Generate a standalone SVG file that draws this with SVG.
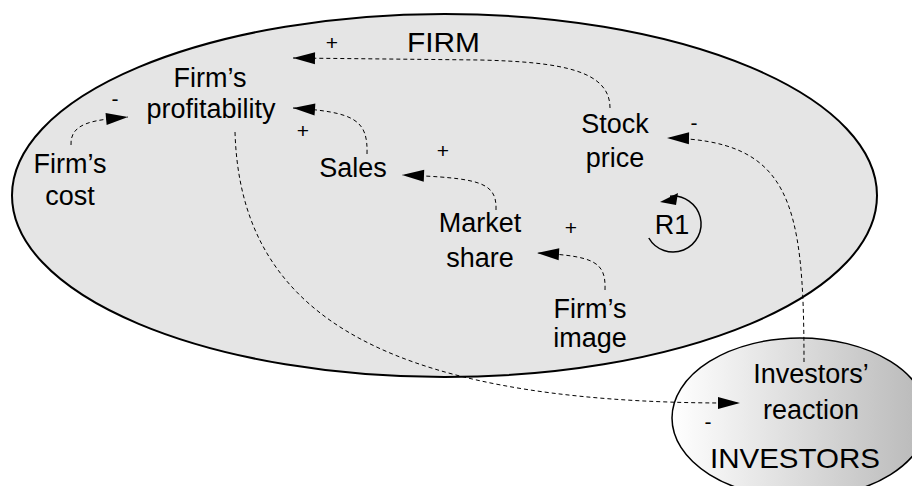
<svg xmlns="http://www.w3.org/2000/svg" width="912" height="486" viewBox="0 0 912 486">
  <defs>
    <linearGradient id="investorsFill" x1="0" y1="0" x2="1" y2="0">
      <stop offset="0" stop-color="#ffffff"/>
      <stop offset="1" stop-color="#b8b8b8"/>
    </linearGradient>
    <marker id="arrow" markerUnits="userSpaceOnUse" markerWidth="22" markerHeight="12" refX="22" refY="6" orient="auto" overflow="visible">
      <path d="M0,0 L22,6 L0,12 z" fill="#000"/>
    </marker>
    <style>
      text { font-family: "Liberation Sans", Arial, sans-serif; fill: #000; text-anchor: middle; }
      .lbl { font-size: 27px; }
      .title { font-size: 28px; }
      .sign { font-size: 21px; }
      .link { fill: none; stroke: #000; stroke-width: 1; stroke-dasharray: 4 3; marker-end: url(#arrow); }
    </style>
  </defs>

  <!-- boundary regions -->
  <g id="firm">
    <ellipse cx="444.5" cy="195.5" rx="432.5" ry="181.5" fill="#e5e5e5" stroke="#000" stroke-width="2"/>
    <text class="title" x="443.5" y="52" textLength="73" lengthAdjust="spacingAndGlyphs">FIRM</text>
  </g>
  <g id="investors">
    <ellipse cx="800" cy="418" rx="128" ry="80" fill="url(#investorsFill)" stroke="#000" stroke-width="1.5"/>
    <text class="title" x="795" y="468" textLength="170" lengthAdjust="spacingAndGlyphs">INVESTORS</text>
  </g>

  <!-- causal links -->
  <g id="connectors">
    <path class="link" d="M610,108 C610,70 560,62 480,60 L293,58"/>
    <path class="link" d="M71,145 C70,122 95,120 128,117"/>
    <path class="link" d="M367,154 C368,120 355,112 293,108"/>
    <path class="link" d="M496,210 C497,182 480,178 402,175"/>
    <path class="link" d="M605,290 C606,262 595,256 537,253"/>
    <path class="link" d="M804,362 C804,200 790,140 667,138"/>
    <path class="link" d="M235,132 C240,300 360,405 740,403"/>
  </g>

  <!-- polarity signs -->
  <g id="signs">
    <text class="sign" x="332" y="50">+</text>
    <text class="sign" x="115" y="106">-</text>
    <text class="sign" x="303" y="138">+</text>
    <text class="sign" x="443" y="158">+</text>
    <text class="sign" x="694" y="130">-</text>
    <text class="sign" x="571" y="235">+</text>
    <text class="sign" x="708" y="429">-</text>
  </g>

  <!-- variables -->
  <g id="profitability">
    <text class="lbl" x="210" y="87">Firm’s</text>
    <text class="lbl" x="211" y="118">profitability</text>
  </g>
  <g id="cost">
    <text class="lbl" x="70" y="173">Firm’s</text>
    <text class="lbl" x="70" y="205">cost</text>
  </g>
  <g id="sales">
    <text class="lbl" x="353" y="177">Sales</text>
  </g>
  <g id="stock-price">
    <text class="lbl" x="615" y="133">Stock</text>
    <text class="lbl" x="615" y="167">price</text>
  </g>
  <g id="market-share">
    <text class="lbl" x="480" y="232">Market</text>
    <text class="lbl" x="480" y="267">share</text>
  </g>
  <g id="image">
    <text class="lbl" x="590" y="318">Firm’s</text>
    <text class="lbl" x="590" y="347">image</text>
  </g>
  <g id="reaction">
    <text class="lbl" x="811" y="383">Investors’</text>
    <text class="lbl" x="811" y="419">reaction</text>
  </g>

  <!-- reinforcing loop marker -->
  <g id="loop-r1">
    <path d="M648.8,238 A28,28 0 1 0 670,196.2" fill="none" stroke="#000" stroke-width="1.5"/>
    <path d="M660,202 L678,193 L676,205 z" fill="#000"/>
    <text class="lbl" x="672" y="234">R1</text>
  </g>
</svg>
